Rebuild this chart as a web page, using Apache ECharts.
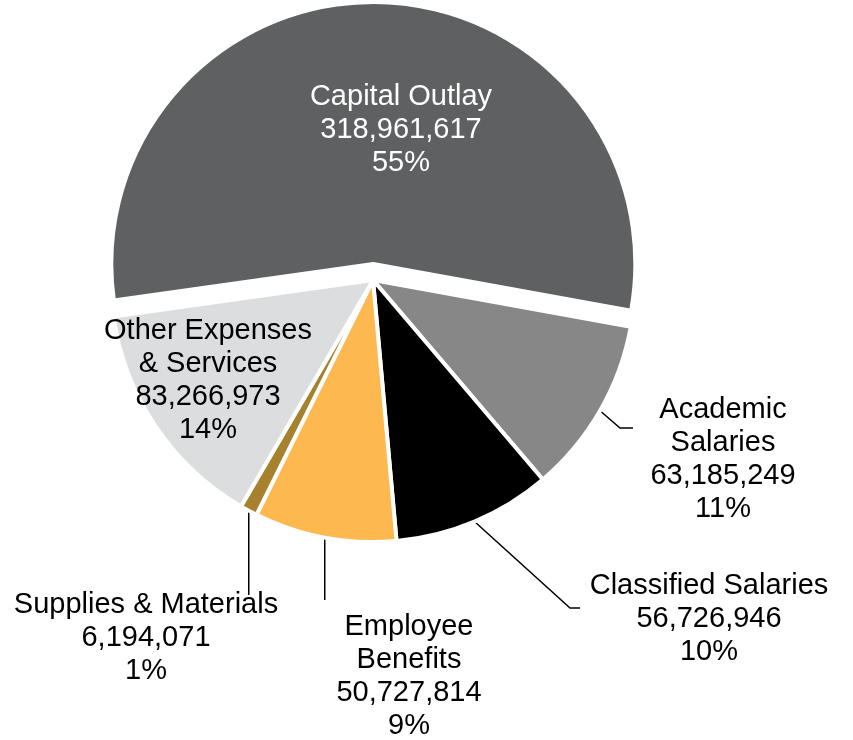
<!DOCTYPE html>
<html><head><meta charset="utf-8">
<script src="https://cdn.jsdelivr.net/npm/echarts@6/dist/echarts.min.js"></script>
<style>html,body{margin:0;padding:0;background:#fff}#c{width:853px;height:740px}</style>
</head><body><div id="c"></div>
<script>
const categories = ['Capital Outlay','Academic Salaries','Classified Salaries','Employee Benefits','Supplies & Materials','Other Expenses & Services'];
const labelNames = ['Capital Outlay','Academic\nSalaries','Classified Salaries','Employee\nBenefits','Supplies & Materials','Other Expenses\n& Services'];
const values = [318961617,63185249,56726946,50727814,6194071,83266973];
const colors = ['#5f6062','#878787','#000000','#fdb94f','#a6822f','#dcdddf'];
const exploded = [true,false,false,false,false,false];
const insideLabel = [true,false,false,false,false,true];
const labelColors = ['#ffffff','#000000','#000000','#000000','#000000','#000000'];

// label block centres and leader-line bends (layout, not data)
const labelPlacement = [
  {x:401, y:130},
  {x:723, y:459, knee:[620,428], end:[633,428]},
  {x:709, y:619, knee:[570,608], end:[580,608]},
  {x:409, y:676, endY:600},
  {x:146, y:638, endY:595},
  {x:208, y:380}
];

const chart = echarts.init(document.getElementById('c'), null, {renderer:'canvas'});
const fontFamily = '"Liberation Sans", Arial, sans-serif';
const pieCenter = [373, 280];
const pieRadius = 262;
const startAngle = 188;
const explodeDist = 16;

// direction of exploded slice: mid-angle of its wedge
const total = values.reduce((a, b) => a + b, 0);
function midAngle(idx) {
  let before = 0;
  for (let k = 0; k < idx; k++) before += values[k];
  const mid = (before + values[idx] / 2) / total * 360;
  return (startAngle - mid) * Math.PI / 180;
}
let expIdx = exploded.indexOf(true);
const a = midAngle(expIdx);
const explodedCenter = [pieCenter[0] + explodeDist * Math.cos(a), pieCenter[1] - explodeDist * Math.sin(a)];

function makeData(visibleFn) {
  return categories.map((name, i) => {
    const vis = visibleFn(i);
    return {
      name: name,
      value: values[i],
      itemStyle: vis ? { color: colors[i], borderColor: '#ffffff', borderWidth: 4 }
                     : { color: 'rgba(0,0,0,0)', borderWidth: 0 },
      label: {
        show: vis,
        position: insideLabel[i] ? 'inside' : 'outside',
        color: labelColors[i]
      },
      labelLine: { show: vis && !insideLabel[i] }
    };
  });
}

function labelLayout(p) {
  const i = p.dataIndex;
  const pl = labelPlacement[i];
  const out = { x: pl.x, y: pl.y, align: 'center', verticalAlign: 'middle' };
  if (!insideLabel[i] && p.labelLinePoints) {
    const s = p.labelLinePoints[0];
    if (pl.knee) {
      out.labelLinePoints = [[s[0], s[1]], pl.knee, pl.end];
    } else {
      out.labelLinePoints = [[s[0], s[1]], [s[0], (s[1] + pl.endY) / 2], [s[0], pl.endY]];
    }
  }
  return out;
}

const baseSeries = {
  type: 'pie',
  radius: pieRadius,
  startAngle: startAngle,
  clockwise: true,
  avoidLabelOverlap: false,
  emphasis: { disabled: true },
  label: {
    fontFamily: fontFamily,
    fontSize: 29,
    lineHeight: 33,
    align: 'center',
    formatter: function (p) {
      return labelNames[p.dataIndex] + '\n' + values[p.dataIndex].toLocaleString('en-US') + '\n' + Math.round(p.percent) + '%';
    }
  },
  labelLine: { lineStyle: { color: '#000000', width: 1.5 } },
  labelLayout: labelLayout
};

chart.setOption({
  animation: false,
  backgroundColor: '#ffffff',
  series: [
    Object.assign({}, baseSeries, { center: pieCenter, data: makeData(i => !exploded[i]) }),
    Object.assign({}, baseSeries, { center: explodedCenter, data: makeData(i => exploded[i]) })
  ]
});
</script>
</body></html>
